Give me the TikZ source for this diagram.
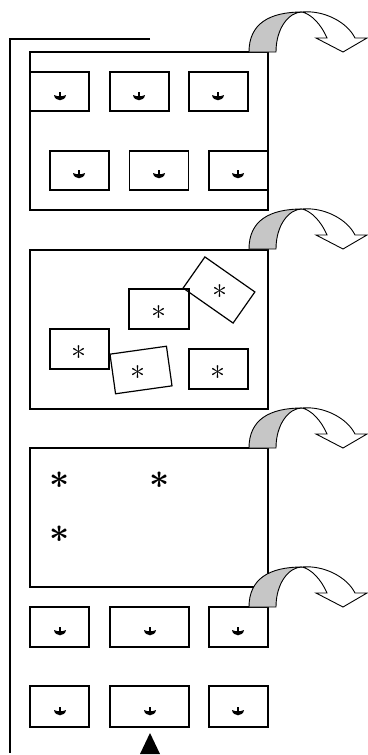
\documentclass[tikz,border=0pt]{standalone}
\usepackage{amsmath}
\usetikzlibrary{positioning}
\tikzset{
  frm/.style={draw,line width=1.2pt,inner sep=0pt},
  card/.style={draw,line width=1.2pt,inner sep=0pt,minimum width=59pt,minimum height=39pt},
  ast/.style={inner sep=0pt,scale=3},
  bigast/.style={inner sep=0pt,scale=3.5},
  sprout/.pic={\fill (-6,-2) .. controls (-5,5) and (5,5) .. (6,-2) .. controls (2.5,-.2) and (-2.5,-.2) .. cycle;
    \fill (-1.3,-5) rectangle (1.3,1.5);},
  flip/.pic={\draw[line width=.9pt,fill=gray!45] (0,0) .. controls (0,-28) and (20,-40) .. (53,-40) .. controls (40,-40) and (27,-24) .. (27,0) -- cycle;
    \draw[line width=.9pt,fill=white] (53,-40) .. controls (75,-42) and (98,-30) .. (106,-14) -- (118,-14) -- (94,0) -- (67,-14) -- (78,-14) .. controls (72,-28) and (62,-38) .. (53,-40) -- cycle;}
}
\begin{document}
\begin{tikzpicture}[x=1pt,y=-1pt]
\useasboundingbox (0,0) rectangle (367,755);
% rail on the left
\coordinate (railend) at (150,39);\coordinate (railtop) at (10,39);\coordinate (railfoot) at (10,753);
\draw[line width=1.2pt] (railend)--(railtop)--(railfoot);
% first tray
\node[frm,minimum width=238pt,minimum height=158pt](tray1) at (149,131){};
\node[card](a1) at (59.5,91.5){};\node[card](a2) at (139.5,91.5){};\node[card](a3) at (218.5,91.5){};
\node[card](b1) at (79.5,170.5){};\node[card](b2) at (159,170.5){};\node[card](b3) at (238.5,170.5){};
\pic at (60,97){sprout};\pic at (139,97){sprout};\pic at (218,97){sprout};
\pic at (79,175){sprout};\pic at (159,175){sprout};\pic at (238,175){sprout};
\pic at (249,52){flip};
% second tray
\node[frm,minimum width=238pt,minimum height=159pt](tray2) at (149,329.5){};
\node[card,minimum width=60pt,minimum height=40pt](m1) at (159,309){};
\node[card,minimum width=61pt,minimum height=38pt,rotate=-35](m2) at (219,290){};
\node[card,minimum height=40pt](m3) at (79.5,349){};
\node[card,minimum width=57pt,minimum height=40pt,rotate=8](m4) at (141,370){};
\node[card,minimum height=40pt](m5) at (218.5,369){};
\node[ast](s1) at (159,313){$\ast$};\node[ast](s2) at (220,292){$\ast$};\node[ast](s3) at (79,353){$\ast$};
\node[ast](s4) at (138,373){$\ast$};\node[ast](s5) at (218,373){$\ast$};
\pic at (249,249){flip};
% third tray
\node[frm,minimum width=238pt,minimum height=139pt](tray3) at (149,517.5){};
\node[bigast](t1) at (60,480){$\boldsymbol{\ast}$};\node[bigast](t2) at (160,480){$\boldsymbol{\ast}$};
\node[bigast](t3) at (60,534){$\boldsymbol{\ast}$};
\pic at (249,448){flip};
% loose cards
\node[card,minimum height=40pt](r1) at (59.5,627){};\node[card,minimum width=79pt,minimum height=40pt](r2) at (149.5,627){};
\node[card,minimum height=40pt](r3) at (238.5,627){};
\node[card,minimum height=41pt](u1) at (59.5,706.5){};\node[card,minimum width=79pt,minimum height=41pt](u2) at (149.5,706.5){};
\node[card,minimum height=41pt](u3) at (238.5,706.5){};
\pic at (60,632){sprout};\pic at (150,632){sprout};\pic at (238,632){sprout};
\pic at (60,712){sprout};\pic at (150,712){sprout};\pic at (238,712){sprout};
\pic at (249,607){flip};
\fill (150,733)--(140,754)--(160,754)--cycle;
\end{tikzpicture}
\end{document}
